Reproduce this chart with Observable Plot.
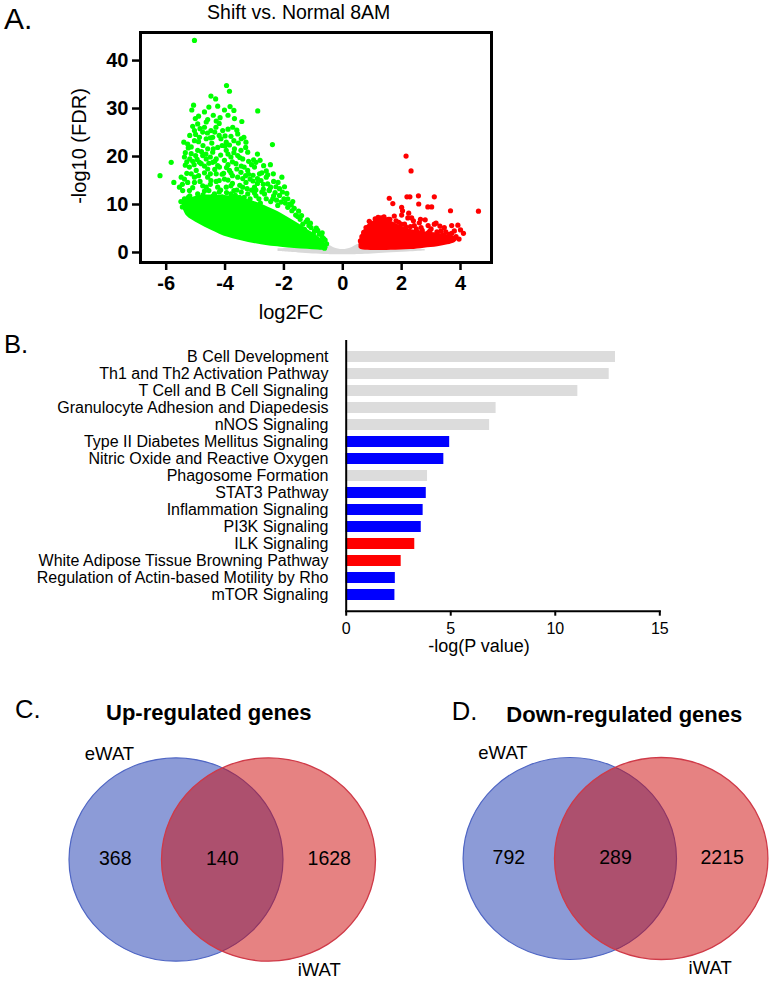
<!DOCTYPE html>
<html>
<head>
<meta charset="utf-8">
<script src="https://cdn.jsdelivr.net/npm/d3@7"></script>
<script src="https://cdn.jsdelivr.net/npm/@observablehq/plot@0.6"></script>
<style>
  body { margin: 0; background: #fff; }
  #page { position: relative; width: 772px; height: 982px; overflow: hidden;
          font-family: "Liberation Sans", Arial, Helvetica, sans-serif; color: #000; background: #fff; }
  .t { position: absolute; white-space: nowrap; line-height: 1; }
  svg.p { position: absolute; overflow: visible; }
</style>
</head>
<body>
<div id="page"></div>
<script>
// ---------------- DATA ----------------
// Panel A: volcano plot (log2FC, -log10 FDR)
const volcanoXTicks = [-6, -4, -2, 0, 2, 4];
const volcanoYTicks = [0, 10, 20, 30, 40];

// dense (overlapping) cores: x, lower and upper -log10 FDR of the packed point clouds
const grayCoreX  = [-2.2, -1.5, -1.0, -0.55, -0.3, 0, 0.3, 0.55, 1.0, 1.5, 2.2, 2.8];
const grayCoreLo = [0.2, -0.1, -0.3, -0.4, -0.45, -0.45, -0.45, -0.4, -0.3, -0.1, 0.1, 0.3];
const grayCoreHi = [0.8, 0.9, 1.1, 1.7, 1.0, 0.6, 1.0, 1.7, 1.1, 0.9, 0.7, 0.6];

const downCoreX  = [-5.45, -5.3, -4.9, -4.45, -3.9, -3.2, -2.55, -2.1, -1.64, -1.2, -0.85, -0.6, -0.5];
const downCoreLo = [9.5, 7.6, 6.0, 4.6, 3.15, 2.1, 1.4, 1.1, 0.85, 0.65, 0.5, 0.5, 0.9];
const downCoreHi = [10.5, 11.0, 11.8, 12.0, 11.8, 11.0, 9.5, 8.2, 6.5, 4.8, 3.4, 2.0, 1.1];

const upCoreX  = [0.55, 0.62, 0.7, 0.85, 1.07, 1.36, 1.64, 1.98, 2.32, 2.77, 3.23, 3.57, 3.82, 3.9];
const upCoreLo = [1.0, 0.6, 0.5, 0.45, 0.4, 0.4, 0.45, 0.5, 0.6, 0.9, 1.2, 1.6, 2.1, 2.6];
const upCoreHi = [1.6, 3.5, 4.5, 5.8, 6.5, 6.9, 6.5, 5.5, 4.8, 4.3, 4.0, 3.7, 3.3, 2.8];

// individual down-regulated genes (green)
const downGenes = [
  [-5.04,44.2],[-3.95,34.8],[-3.85,33.6],[-4.48,32.6],[-4.32,32.0],[-5.07,30.7],[-5.13,29.7],[-3.83,30.4],
  [-4.02,29.7],[-2.89,29.5],[-4.70,29.3],[-4.17,28.1],[-5.01,27.9],[-4.59,27.7],[-3.68,27.9],[-3.43,27.3],
  [-5.10,26.3],[-5.04,25.4],[-4.70,26.1],[-5.40,23.0],[-5.27,22.6],[-5.04,23.3],[-4.87,24.0],[-4.64,23.7],
  [-4.42,24.0],[-4.14,23.7],[-4.10,22.3],[-3.80,24.2],[-3.36,24.0],[-2.39,22.5],[-5.38,19.9],[-5.15,20.6],
  [-4.93,21.3],[-4.76,20.2],[-4.59,21.6],[-4.42,20.9],[-4.25,21.9],[-3.96,21.3],[-3.68,21.6],[-3.46,21.3],
  [-3.23,20.9],[-3.03,19.3],[-2.81,19.2],[-5.83,18.8],[-6.21,16.0],[-5.74,14.6],[-5.49,15.7],[-5.38,15.3],
  [-5.55,13.6],[-5.44,12.9],[-5.38,11.2],[-5.21,17.8],[-4.98,17.1],[-4.81,18.5],[-4.59,17.4],[-4.42,18.8],
  [-4.19,17.8],[-4.02,19.2],[-3.85,17.1],[-3.63,18.5],[-3.40,19.5],[-3.23,17.1],[-3.00,17.8],[-2.69,18.1],
  [-2.46,18.3],[-2.36,16.4],[-2.07,15.7],[-1.98,13.7],[-2.27,13.7],[-2.55,14.3],[-2.78,15.0],[-3.00,13.6],
  [-3.29,14.6],[-3.57,15.7],[-3.80,13.9],[-4.02,15.3],[-4.25,13.6],[-4.48,15.0],[-4.76,13.9],[-5.04,14.6],
  [-5.21,12.9],[-4.93,12.2],[-4.64,11.5],[-4.36,12.2],[-4.08,11.5],[-3.80,12.2],[-3.51,11.5],[-3.23,12.2],
  [-2.95,11.8],[-2.66,12.2],[-2.38,11.2],[-2.15,11.9],[-1.87,11.2],[-1.73,8.7],[-1.53,7.5],[-1.87,9.4],
  [-2.21,9.8],[-1.36,5.9],[-1.08,5.2],[-0.96,4.5],[-5.15,10.1],[-5.04,9.4],[-5.27,8.7],[-4.87,10.5],
  [-4.76,25.1],[-4.31,26.1],[-4.48,25.4],[-4.08,25.4],[-3.57,24.7],[-3.29,23.0],[-4.93,26.8],[-4.64,27.2],
  [-3.74,26.1],[-3.96,23.0],[-4.87,18.8],[-4.64,19.5],[-4.30,19.5],[-3.80,19.9],[-3.57,20.2],[-5.04,15.7],
  [-5.27,14.6],[-4.59,15.7],[-4.30,16.4],[-3.46,16.7],[-2.83,16.4],[-2.60,15.7],[-3.40,13.6],[-3.96,13.6],
  [-4.64,13.6],[-0.55,1.8],[-0.60,2.6],[-0.70,3.2],[-0.80,3.8],[-1.00,3.9],[-1.15,5.6],[-1.25,6.4],
  [-1.45,6.9],[-1.60,7.8],[-1.75,9.9],[-1.95,10.3],[-2.10,10.5],[-1.30,4.8],[-0.75,1.2],[-0.62,0.9],
  [-5.30,16.5],[-5.10,19.0],[-4.90,16.0],[-4.70,16.6],[-4.50,19.9],[-4.35,17.3],[-4.20,15.0],[-4.05,16.5],
  [-3.90,18.3],[-3.75,16.0],[-3.60,13.0],[-3.45,18.0],[-3.30,16.0],[-3.15,15.3],[-3.10,13.0],[-2.90,14.4],
  [-2.70,13.2],[-2.50,12.9],[-2.30,12.5],[-2.05,12.6],[-5.45,14.2],[-5.35,18.2],[-5.00,20.2],[-4.45,22.8],
  [-4.75,22.3],[-3.85,22.4],[-3.55,22.8],[-3.20,19.0],[-2.60,17.0],[-2.90,20.5],[-3.70,29.6],[-4.20,26.9],
  [-4.40,28.6],[-5.20,24.4],[-4.55,30.3],[-3.60,25.5],[-2.20,14.6],[-1.90,12.3],[-1.70,10.6],[-2.45,10.6],
  [-5.50,10.6],[-5.45,9.5],[-5.2,11.8],[-4.7,12.8],[-4.2,12.6],[-3.7,12.9],[-3.0,12.4],[-2.8,10.3],
  [-5.25,11.5],[-5.1,13.5],[-5.0,11.0],[-4.85,14.8],[-4.75,12.0],[-4.55,12.9],[-4.5,14.2],[-4.4,11.8],
  [-4.3,14.8],[-4.15,13.0],[-4.1,11.6],[-3.95,12.5],[-3.9,15.1],[-3.75,14.4],[-3.65,11.9],[-3.5,14.0],
  [-3.45,12.6],[-3.35,11.5],[-3.25,13.3],[-3.15,11.2],[-3.05,14.9],[-2.95,13.0],[-2.85,11.2],[-2.75,12.6],
  [-2.6,11.2],[-2.45,13.6],[-2.35,11.8],[-2.25,10.9],[-2.0,11.2],[-1.8,10.1],[-1.65,9.2],[-1.5,8.6],
  [-1.4,7.7],[-1.2,6.8],[-1.1,6.1],[-0.9,5.1],[-0.85,4.6],[-0.7,4.1],[-0.65,2.9],
  [-5.35,20.8],[-5.25,21.8],[-5.2,19.5],[-5.15,16.4],[-5.05,18.3],[-4.95,19.4],[-4.9,23.1],[-4.8,21.0],
  [-4.7,18.0],[-4.65,20.5],[-4.55,18.6],[-4.5,16.4],[-4.4,21.6],[-4.35,19.0],[-4.25,18.1],[-4.15,20.3],
  [-4.1,16.3],[-4.0,22.2],[-3.95,17.7],[-3.9,20.5],[-3.8,16.6],[-3.75,18.9],[-3.7,20.8],[-3.6,17.4],
  [-3.5,19.8],[-3.4,15.4],[-3.35,17.8],[-3.3,21.9],[-3.2,16.3],[-3.1,18.3],[-3.05,16.1],[-2.95,18.8],
  [-2.9,15.4],[-2.75,16.6],[-2.7,14.2],[-2.55,16.2],[-2.5,13.0],[-2.35,14.8],[-2.15,13.3],[-5.0,24.6],
  [-4.85,25.8],[-4.6,24.9],[-4.5,23.9],[-4.35,25.1],[-4.2,24.4],[-4.0,24.3],[-3.9,25.7],[-3.7,23.3],
  [-3.45,23.7],[-4.3,27.4],[-4.9,28.4],[-4.25,30.5],[-3.9,28.6],[-5.15,22.0],[-5.3,18.9]
];

// individual up-regulated genes (red)
const upGenes = [
  [2.15,20.1],[2.32,17.0],[1.58,11.3],[1.70,10.2],[2.18,11.6],[2.28,11.6],[2.57,11.8],[3.11,11.6],
  [2.58,10.1],[2.89,9.5],[3.02,9.5],[2.00,9.4],[2.03,8.7],[3.66,8.7],[4.61,8.6],[2.24,8.2],
  [2.21,7.2],[2.34,7.2],[2.64,6.9],[2.80,6.8],[3.17,6.1],[3.70,5.6],[3.91,5.7],[4.00,4.7],
  [4.10,4.0],[1.30,7.2],[1.47,6.8],[1.81,6.6],[1.98,5.9],[2.43,5.6],[2.66,5.2],[3.00,4.9],
  [3.34,4.5],[3.62,3.8],[3.79,4.5],[2.55,4.2],[2.09,4.5],[1.64,5.6],[1.19,6.6],[0.96,6.1],
  [0.79,5.2],[0.71,4.2],[3.11,5.9],[3.45,5.2],[0.60,2.4],[0.65,3.3],[1.10,7.0],[1.55,6.9],
  [2.90,4.1],[3.40,3.6],[3.85,3.3],[3.95,2.8],[2.15,5.3],[1.80,5.4],
  [0.9,6.5],[1.0,5.7],[1.2,7.3],[1.4,7.4],[1.6,6.9],[1.9,6.3],[2.1,5.9],[2.3,5.4],
  [2.5,4.9],[2.7,4.6],[2.95,4.4],[3.2,4.3],[3.5,4.3],[3.7,4.0],[2.6,6.2],[2.4,6.6],
  [3.3,5.5],[1.75,7.6],[2.0,7.8],[2.9,5.6]
];

// Panel B: canonical pathways
const pathways = [
  "B Cell Development", "Th1 and Th2 Activation Pathway", "T Cell and B Cell Signaling",
  "Granulocyte Adhesion and Diapedesis", "nNOS Signaling", "Type II Diabetes Mellitus Signaling",
  "Nitric Oxide and Reactive Oxygen", "Phagosome Formation", "STAT3 Pathway", "Inflammation Signaling",
  "PI3K Signaling", "ILK Signaling", "White Adipose Tissue Browning Pathway",
  "Regulation of Actin-based Motility by Rho", "mTOR Signaling"
];
const negLogP = [12.88, 12.58, 11.08, 7.17, 6.86, 4.95, 4.67, 3.89, 3.83, 3.68, 3.59, 3.28, 2.63, 2.35, 2.33];
const zDirection = ["none", "none", "none", "none", "none", "down", "down", "none", "down", "down", "down", "up", "up", "down", "down"];
const pathwayTicks = [0, 5, 10, 15];

// Panels C, D: Venn counts [eWAT only, both, iWAT only]
const vennSets = ["eWAT", "iWAT"];
const upCounts = [368, 140, 1628];
const downCounts = [792, 289, 2215];

// ---------------- LAYOUT ----------------
const FONT = "Liberation Sans, Arial, Helvetica, sans-serif";
const page = document.getElementById("page");

function addText(str, x, y, size, opts = {}) {
  const d = document.createElement("div");
  d.className = "t";
  d.textContent = str;
  d.style.fontSize = size + "px";
  d.style.fontWeight = opts.weight || "normal";
  if (opts.rotate) {
    d.style.left = x + "px";
    d.style.top = y + "px";
    d.style.transform = "translate(-50%,-50%) rotate(-90deg)";
  } else {
    d.style.left = x + "px";
    d.style.top = (y - 0.847 * size) + "px";
    const a = opts.anchor || "start";
    if (a === "middle") d.style.transform = "translateX(-50%)";
    if (a === "end") d.style.transform = "translateX(-100%)";
  }
  page.appendChild(d);
}
function place(svg, left, top) {
  svg.classList.add("p");
  svg.style.left = left + "px";
  svg.style.top = top + "px";
  page.appendChild(svg);
}
const toRows = (xs, lo, hi) => xs.map((x, i) => ({x, lo: lo[i], hi: hi[i]}));

// ---- Panel A
const volcano = Plot.plot({
  width: 500, height: 300,
  marginLeft: 140, marginRight: 9, marginTop: 32, marginBottom: 38,
  x: {domain: [-6.873, 5.053]},
  y: {domain: [-2.09, 45.85]},
  style: {fontFamily: FONT, background: "none", overflow: "visible"},
  marks: [
    Plot.areaY(toRows(grayCoreX, grayCoreLo, grayCoreHi), {x: "x", y1: "lo", y2: "hi", fill: "#d9d9d9", curve: "catmull-rom"}),
    Plot.areaY(toRows(downCoreX, downCoreLo, downCoreHi), {x: "x", y1: "lo", y2: "hi", fill: "#00ff00", curve: "catmull-rom"}),
    Plot.areaY(toRows(upCoreX, upCoreLo, upCoreHi), {x: "x", y1: "lo", y2: "hi", fill: "#ff0000", curve: "catmull-rom"}),
    Plot.dot(downGenes, {x: d => d[0], y: d => d[1], r: 2.6, fill: "#00ff00"}),
    Plot.dot(upGenes, {x: d => d[0], y: d => d[1], r: 2.6, fill: "#ff0000"}),
    Plot.frame({stroke: "#000", strokeWidth: 3}),
    Plot.axisX({ticks: volcanoXTicks, tickSize: 8, tickPadding: 5, strokeWidth: 2.5, fontSize: 20,
                fontWeight: "bold", tickFormat: d => String(d), label: null}),
    Plot.axisY({ticks: volcanoYTicks, tickSize: 8, tickPadding: 4, strokeWidth: 2.5, fontSize: 20,
                fontWeight: "bold", tickFormat: d => String(d), label: null})
  ]
});
place(volcano, 0, 0);
addText("A.", 4, 29.3, 30);
addText("Shift vs. Normal 8AM", 298.7, 20, 19.5, {anchor: "middle"});
addText("-log10 (FDR)", 79, 145.7, 20, {rotate: true});
addText("log2FC", 291, 319, 20, {anchor: "middle"});

// ---- Panel B
const pathwayRows = pathways.map((name, i) => ({name, v: negLogP[i], dir: zDirection[i]}));
const bars = Plot.plot({
  width: 680, height: 320,
  marginLeft: 345.7, marginRight: 20.7, marginTop: 10, marginBottom: 39.3,
  x: {domain: [0, 15]},
  y: {domain: pathways, padding: 0.334},
  color: {domain: ["none", "down", "up"], range: ["#dcdcdc", "#0000ff", "#ff0000"]},
  style: {fontFamily: FONT, background: "none", overflow: "visible"},
  marks: [
    Plot.barX(pathwayRows, {x: "v", y: "name", fill: "dir"}),
    Plot.ruleX([0], {stroke: "#000", strokeWidth: 2}),
    Plot.frame({anchor: "bottom", stroke: "#000", strokeWidth: 2}),
    Plot.axisX({ticks: pathwayTicks, tickSize: 5, tickPadding: 6, strokeWidth: 2, fontSize: 16, label: null}),
    Plot.axisY({tickSize: 0, tickPadding: 17.7, fontSize: 16, label: null})
  ]
});
place(bars, 0, 330);
addText("B.", 4, 353.3, 25.6);
addText("-log(P value)", 479, 652, 18, {anchor: "middle"});

// ---- Panels C, D (Venn)
function ellipseSymbol(aspect) {
  return {
    draw(ctx, size) {
      const ry = Math.sqrt(size / Math.PI), rx = ry * aspect, k = 0.5522847;
      ctx.moveTo(rx, 0);
      ctx.bezierCurveTo(rx, k * ry, k * rx, ry, 0, ry);
      ctx.bezierCurveTo(-k * rx, ry, -rx, k * ry, -rx, 0);
      ctx.bezierCurveTo(-rx, -k * ry, -k * rx, -ry, 0, -ry);
      ctx.bezierCurveTo(k * rx, -ry, rx, -k * ry, rx, 0);
      ctx.closePath();
    }
  };
}
function venn(counts, g) {
  const half = (g.cxR - g.cxL) / 2;          // px per x unit
  const edge = g.rx / half;                  // ellipse half-width in x units
  const regions = [-edge, 0, edge];
  const sym = ellipseSymbol(g.rx / g.ry);
  const setRows = vennSets.map((name, i) => ({name, x: i * 2 - 1}));
  return Plot.plot({
    width: 386, height: 342, margin: 0,
    x: {domain: [-1, 1], range: [g.cxL, g.cxR], axis: null},
    y: {domain: [-1, 1], range: [g.cy + g.ry, g.cy - g.ry], axis: null},
    style: {fontFamily: FONT, background: "none", overflow: "visible"},
    marks: [
      Plot.dot(setRows.slice(0, 1), {x: "x", y: 0, r: g.ry, symbol: sym, fill: "#8c9bd7", stroke: "#4f66c4", strokeWidth: 1.2}),
      Plot.dot(setRows.slice(1, 2), {x: "x", y: 0, r: g.ry, symbol: sym, fill: "#cd0505", fillOpacity: 0.5, stroke: "#cf3a48", strokeWidth: 1.3}),
      Plot.text(counts, {x: (d, i) => regions[i], y: 0, text: d => String(d), fontSize: 19.5, fill: "#000", dy: -1}),
      Plot.text(setRows.slice(0, 1), {x: "x", y: 1, text: "name", fontSize: 18.5, fill: "#000", dx: g.dxL, dy: g.dyTop}),
      Plot.text(setRows.slice(1, 2), {x: "x", y: -1, text: "name", fontSize: 18.5, fill: "#000", dx: g.dxR, dy: g.dyBot})
    ]
  });
}
place(venn(upCounts, {cxL: 175.5, cxR: 268, cy: 219, rx: 107, ry: 101.7, dxL: -66.5, dxR: 50.8, dyTop: -4, dyBot: 8.5}), 0, 640);
place(venn(downCounts, {cxL: 183.3, cxR: 274.7, cy: 218, rx: 106.7, ry: 101, dxL: -66.8, dxR: 49, dyTop: -4, dyBot: 8.5}), 386, 640);
addText("C.", 15, 718.3, 25.6);
addText("Up-regulated genes", 106, 721, 22, {weight: "bold"});
addText("D.", 451.7, 721, 25.6);
addText("Down-regulated genes", 624.3, 722.3, 22, {weight: "bold", anchor: "middle"});
</script>
</body>
</html>
